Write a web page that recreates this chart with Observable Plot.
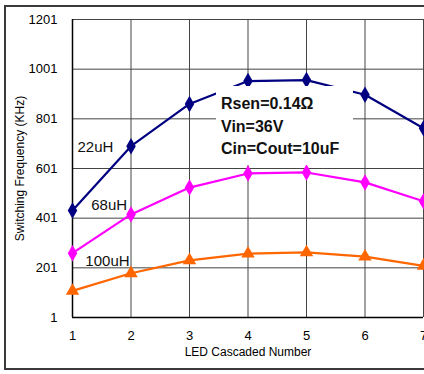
<!DOCTYPE html>
<html>
<head>
<meta charset="utf-8">
<script src="https://cdn.jsdelivr.net/npm/d3@7"></script>
<script src="https://cdn.jsdelivr.net/npm/@observablehq/plot@0.6"></script>
<style>
  html, body { margin: 0; padding: 0; background: #fff; overflow: hidden; }
  #wrap { position: relative; width: 424px; height: 374px; overflow: hidden; font-family: Arial, "Liberation Sans", sans-serif; }
  #frame { position: absolute; left: 4px; top: 5px; width: 440px; height: 365px; border: 2px solid #3a3a3a; box-sizing: border-box; pointer-events: none; }
  #note { position: absolute; left: 216px; top: 86px; width: 137px; height: 79px; background: #fff; font-weight: bold; font-size: 16px; line-height: 22.5px; padding: 7px 0 0 5px; box-sizing: border-box; color: #111; }
</style>
</head>
<body>
<div id="wrap"></div>
<script>
const ledCount = [1, 2, 3, 4, 5, 6, 7];
const freq22uH = [432, 691, 861, 953, 957, 898, 763];
const freq68uH = [260, 416, 524, 581, 585, 545, 469];
const freq100uH = [108, 179, 231, 258, 263, 246, 209];
const seriesNames = ["22uH", "68uH", "100uH"];
const seriesColors = ["#000080", "#FF00FF", "#FF6600"];
const yTicks = [1, 201, 401, 601, 801, 1001, 1201];
const xTicks = [1, 2, 3, 4, 5, 6, 7];
const noteLines = ["Rsen=0.14Ω", "Vin=36V", "Cin=Cout=10uF"];
// label anchor positions (data coords)
const labelX = [1.085, 1.32, 1.22];
const labelY = [686, 452, 226];

const allSeries = [freq22uH, freq68uH, freq100uH];
const data = [];
allSeries.forEach((vals, si) => vals.forEach((v, i) => data.push({x: ledCount[i], y: v, s: seriesNames[si]})));
const labels = seriesNames.map((n, i) => ({x: labelX[i], y: labelY[i], text: n}));

const color = {domain: seriesNames, range: seriesColors};

const chart = Plot.plot({
  width: 424,
  height: 374,
  marginLeft: 72,
  marginRight: 1,
  marginTop: 19,
  marginBottom: 57,
  style: {fontFamily: "Arial, 'Liberation Sans', sans-serif", fontSize: "13px", background: "transparent", overflow: "visible"},
  color,
  x: {domain: [1, 7], ticks: xTicks, tickSize: 0, tickPadding: 13, label: "LED Cascaded Number", labelArrow: "none", labelAnchor: "center", labelOffset: 38, tickFormat: d => String(d)},
  y: {domain: [1, 1201], ticks: yTicks, tickSize: 0, tickPadding: 15, label: "Switching Frequency (KHz)", labelArrow: "none", labelAnchor: "center", labelOffset: 57, tickFormat: d => String(d)},
  marks: [
    Plot.gridX(xTicks, {stroke: "#444", strokeOpacity: 1, strokeWidth: 1}),
    Plot.gridY(yTicks, {stroke: "#444", strokeOpacity: 1, strokeWidth: 1}),
    Plot.ruleX([1], {stroke: "#000", strokeWidth: 1.5}),
    Plot.ruleY([1], {stroke: "#000", strokeWidth: 1.5}),
    Plot.text(labels, {x: "x", y: "y", text: "text", textAnchor: "start", fontSize: 15, fill: "#111"}),
    Plot.line(data, {x: "x", y: "y", z: "s", stroke: "s", strokeWidth: 2.2}),
    Plot.dot(data.filter(d => d.s !== "100uH"), {x: "x", y: "y", fill: "s", symbol: "diamond", r: 5, stroke: "none"}),
    Plot.dot(data.filter(d => d.s === "100uH"), {x: "x", y: "y", fill: "s", symbol: "triangle", r: 5, stroke: "none"})
  ]
});
const wrap = document.getElementById("wrap");
wrap.appendChild(chart);
chart.style.position = "absolute";
chart.style.left = "0px";
chart.style.top = "0px";
chart.style.maxWidth = "none";
chart.querySelectorAll("g[aria-label='x-axis label'] text, g[aria-label='y-axis label'] text").forEach(t => {
  t.style.fontSize = "12px";
  t.textContent = t.textContent.replace(/[→↑]/g, "").trim();
});
const note = document.createElement("div");
note.id = "note";
note.innerHTML = noteLines.join("<br>");
wrap.appendChild(note);
const frame = document.createElement("div");
frame.id = "frame";
wrap.appendChild(frame);
</script>
</body>
</html>
